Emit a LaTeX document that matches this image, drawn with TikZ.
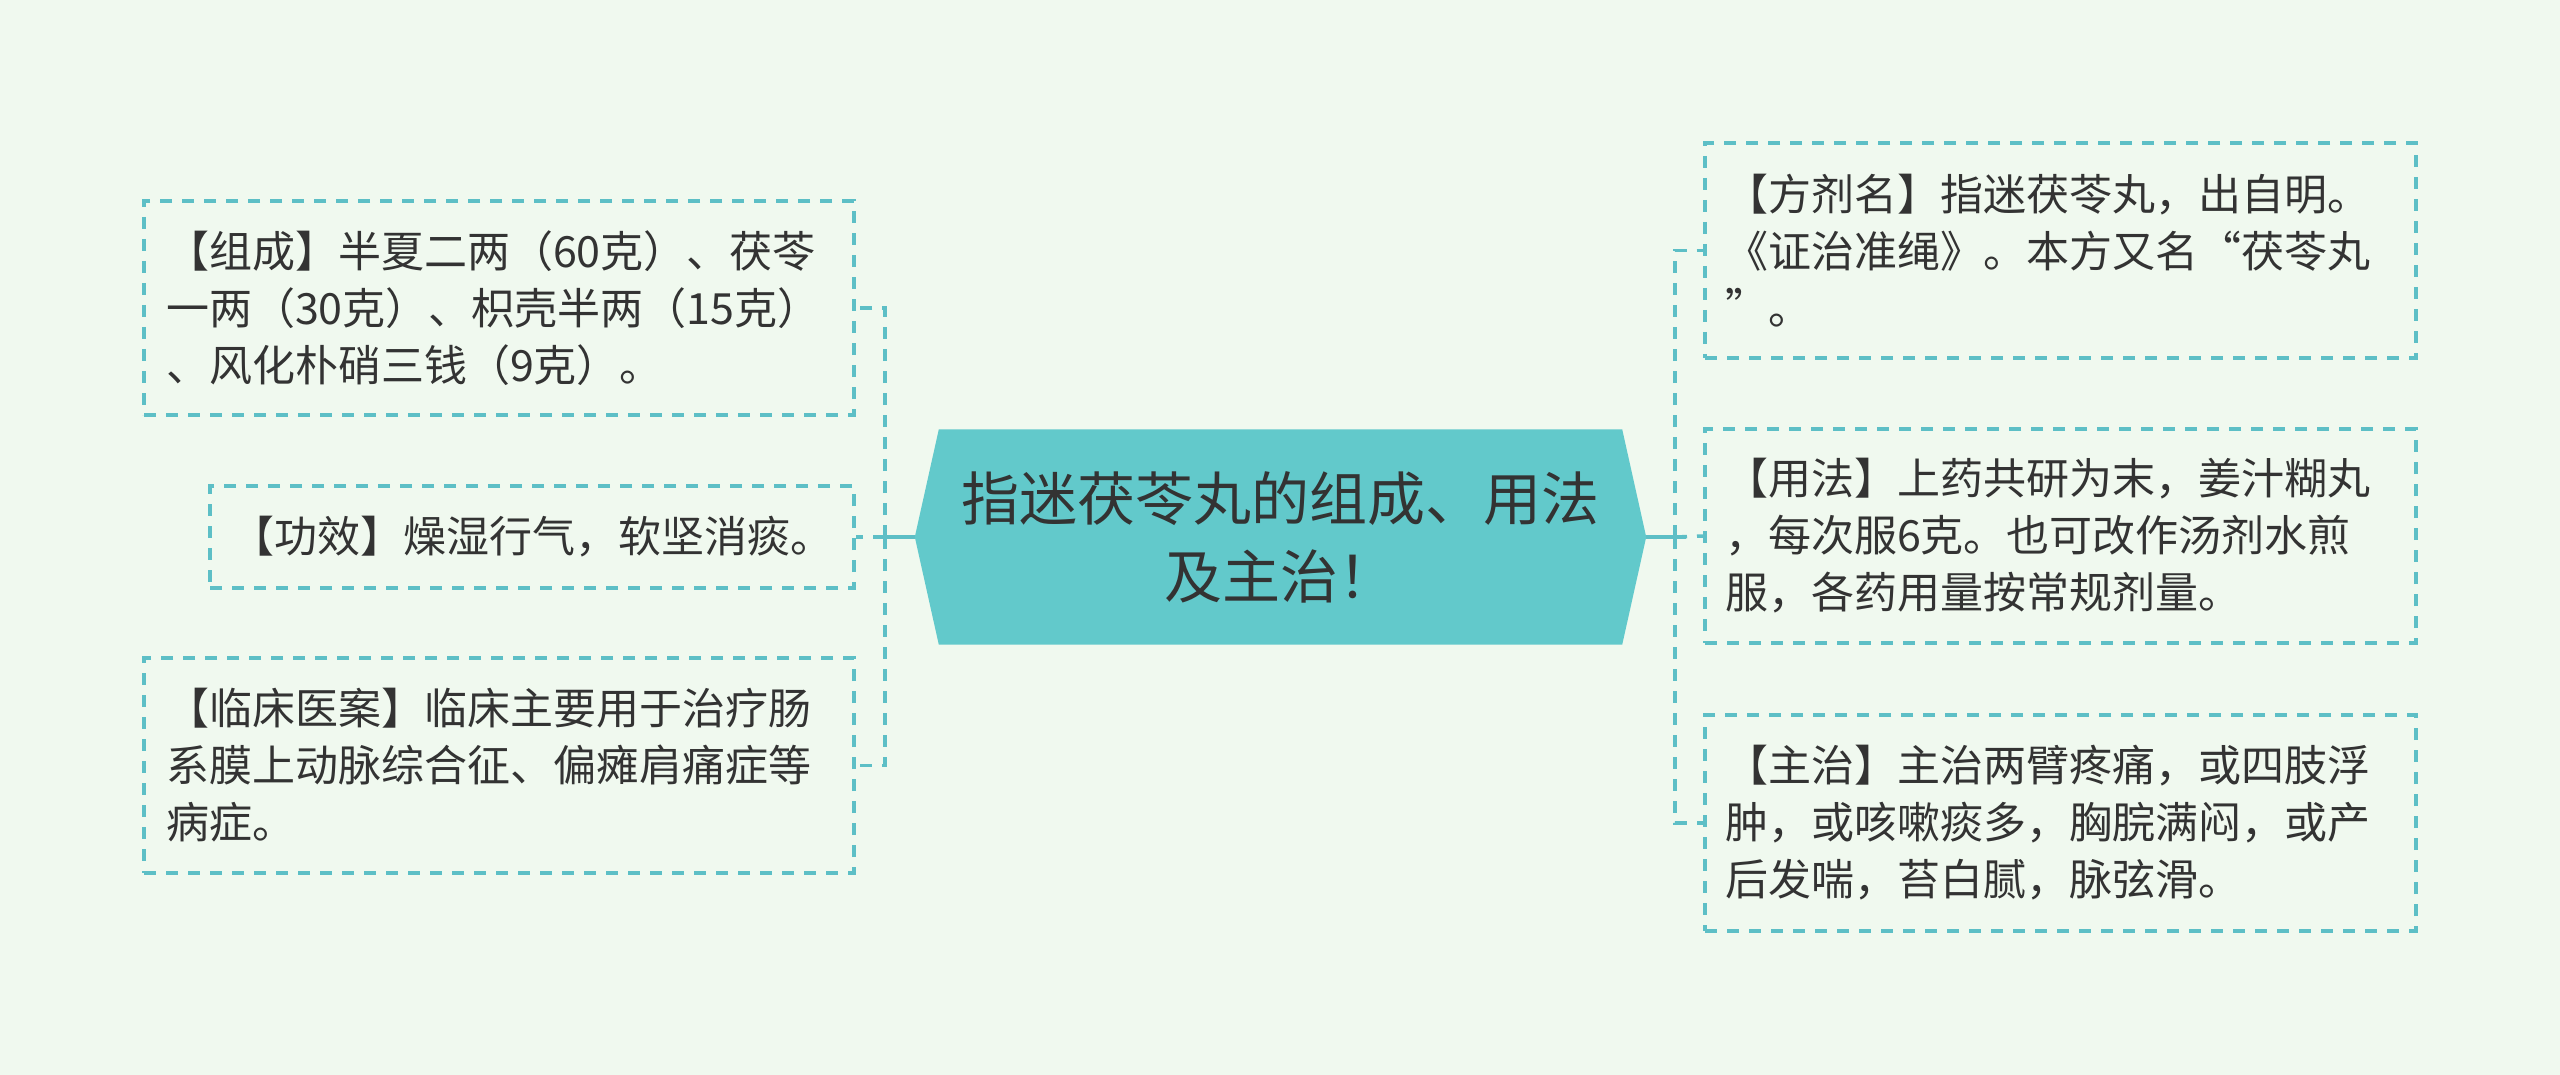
\documentclass[tikz,border=0pt]{standalone}
\usepackage{fontspec}
\setmainfont{Noto Sans CJK SC}
\usetikzlibrary{backgrounds}
\definecolor{bg}{HTML}{F0F9EF}
\definecolor{tealfill}{HTML}{62C9CB}
\definecolor{lineC}{HTML}{5DBFC6}
\definecolor{txt}{HTML}{333333}
\tikzset{
 leaf/.style={draw=lineC, line width=3.5pt, dash pattern=on 12pt off 10pt, text=txt,
   font=\fontsize{43pt}{57pt}\selectfont, inner ysep=0pt, align=left},
 branch/.style={draw=lineC, line width=3.5pt, dash pattern=on 12pt off 10pt},
 trunk/.style={draw=lineC, line width=4pt},
}
\begin{document}
\begin{tikzpicture}[x=1pt,y=-1pt]
\useasboundingbox (0,0) rectangle (2560,1075);
\node[text=txt, font=\fontsize{58pt}{78pt}\selectfont, align=center,
  minimum width=731pt, minimum height=215pt, inner sep=0pt] (c) at (1280.5,537)
  {指迷茯苓丸的组成、用法\\及主治！};
\begin{scope}[on background layer]
\fill[bg] (0,0) rectangle (2560,1075);
\fill[tealfill] ([xshift=24pt]c.north west) -- ([xshift=-24pt]c.north east) -- (c.east)
  -- ([xshift=-24pt]c.south east) -- ([xshift=24pt]c.south west) -- (c.west) -- cycle;
\end{scope}

\node[leaf, text width=666pt, inner xsep=22pt, minimum height=214pt] (l1) at (499,308)
  {【组成】半夏二两（60克）、茯苓\\一两（30克）、枳壳半两（15克）\\、风化朴硝三钱（9克）。};
\node[leaf, align=center, text width=614pt, inner xsep=15pt, minimum height=102pt] (l2) at (532,537)
  {【功效】燥湿行气，软坚消痰。};
\node[leaf, text width=666pt, inner xsep=22pt, minimum height=215pt] (l3) at (499,765.5)
  {【临床医案】临床主要用于治疗肠\\系膜上动脉综合征、偏瘫肩痛症等\\病症。};

\node[leaf, text width=671pt, inner xsep=20pt, minimum height=215pt] (r1) at (2060.5,250.5)
  {【方剂名】指迷茯苓丸，出自明。\\《证治准绳》。本方又名“茯苓丸\\”。};
\node[leaf, text width=671pt, inner xsep=20pt, minimum height=214pt] (r2) at (2060.5,536)
  {【用法】上药共研为末，姜汁糊丸\\，每次服6克。也可改作汤剂水煎\\服，各药用量按常规剂量。};
\node[leaf, text width=671pt, inner xsep=20pt, minimum height=216pt] (r3) at (2060.5,823)
  {【主治】主治两臂疼痛，或四肢浮\\肿，或咳嗽痰多，胸脘满闷，或产\\后发喘，苔白腻，脉弦滑。};

\coordinate (lj) at (885,537);
\coordinate (rj) at (1675,537);
\draw[trunk] (c.west) -- ([xshift=-11pt]lj);
\draw[trunk] (c.east) -- ([xshift=11pt]rj);
\draw[branch] (lj) |- (l1.east);
\draw[branch] (lj) -- (l2.east);
\draw[branch] (lj) |- (l3.east);
\draw[branch] (rj) |- (r1.west);
\draw[branch] (rj) -- (r2.west);
\draw[branch] (rj) |- (r3.west);
\end{tikzpicture}
\end{document}
